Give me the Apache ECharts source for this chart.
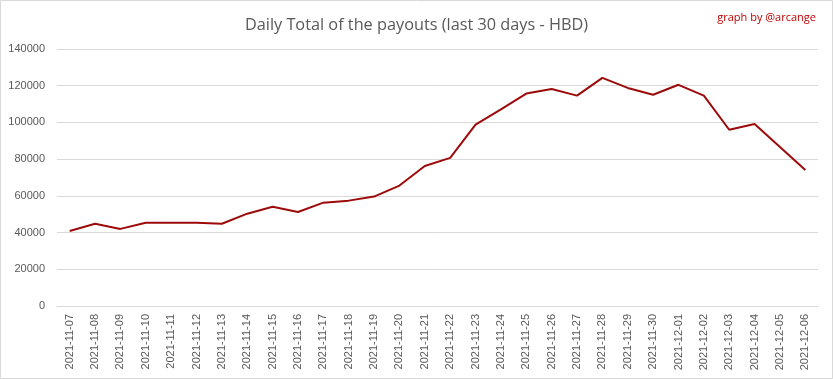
<!DOCTYPE html>
<html><head><meta charset="utf-8">
<script src="https://cdn.jsdelivr.net/npm/echarts@6/dist/echarts.min.js"></script>
<style>html,body{margin:0;padding:0;background:#fff}#c{width:833px;height:379px}</style>
</head><body><div id="c"></div>
<script>
const categories = ["2021-11-07","2021-11-08","2021-11-09","2021-11-10","2021-11-11","2021-11-12","2021-11-13","2021-11-14","2021-11-15","2021-11-16","2021-11-17","2021-11-18","2021-11-19","2021-11-20","2021-11-21","2021-11-22","2021-11-23","2021-11-24","2021-11-25","2021-11-26","2021-11-27","2021-11-28","2021-11-29","2021-11-30","2021-12-01","2021-12-02","2021-12-03","2021-12-04","2021-12-05","2021-12-06"];
const payouts = [40900,44800,42000,45400,45400,45300,44800,50300,54100,51200,56300,57400,59600,65600,76300,80700,98800,107100,115700,118200,114600,124300,118800,115100,120500,114600,96000,99100,86600,74100];
const titleText = "Daily Total of the payouts (last 30 days - HBD)";
const creditText = "graph by @arcange";

const chart = echarts.init(document.getElementById('c'), null, {renderer:'canvas'});
chart.setOption({
  animation:false,
  backgroundColor:'#fff',
  title:[
    {text:titleText,left:'center',top:12,textStyle:{fontFamily:'"Open Sans", sans-serif',fontSize:16.3,fontWeight:'normal',color:'#595959'}},
    {text:creditText,right:12,top:7,textStyle:{fontFamily:'"Open Sans", sans-serif',fontSize:11,fontWeight:'normal',color:'#c00000'}}
  ],
  graphic:[{type:'rect',shape:{x:0.5,y:0.5,width:832,height:378},style:{fill:'none',stroke:'#d9d9d9',lineWidth:1},silent:true}],
  grid:{left:57,right:15,top:49,bottom:73,containLabel:false},
  xAxis:{type:'category',data:categories,boundaryGap:true,
    axisLine:{lineStyle:{color:'#d9d9d9'}},axisTick:{show:false},
    axisLabel:{rotate:90,interval:0,color:'#595959',fontSize:11,fontFamily:'"Liberation Sans", sans-serif',margin:8}},
  yAxis:{type:'value',min:0,max:140000,interval:20000,
    axisLine:{show:false},axisTick:{show:false},
    splitLine:{lineStyle:{color:'#d9d9d9'}},
    axisLabel:{color:'#595959',fontSize:11,fontFamily:'"Liberation Sans", sans-serif',margin:12,formatter:v=>String(v)}},
  series:[{type:'line',data:payouts,showSymbol:false,symbol:'none',lineStyle:{color:'#9c0a0a',width:2},itemStyle:{color:'#9c0a0a'}}]
});
</script></body></html>
